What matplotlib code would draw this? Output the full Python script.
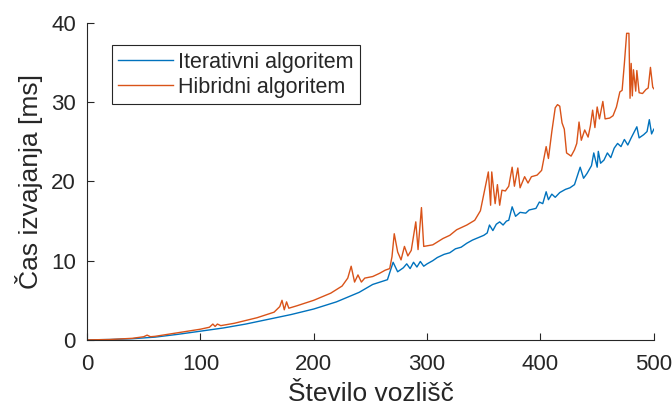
import matplotlib
matplotlib.use("Agg")
import matplotlib.pyplot as plt

# ------------------------------------------------------------
# Data (nodes vs. time in ms)
# ------------------------------------------------------------
n_iter = [0, 20, 40, 60, 80, 100, 120, 140, 160, 180, 200, 220, 240, 252, 265,
          270, 274, 279, 282, 285, 288, 291, 294, 297, 300, 305, 309, 315, 320,
          325, 330, 335, 340, 345, 350, 353, 355, 358, 361, 364, 367, 370, 372,
          375, 378, 382, 387, 390, 396, 399, 402, 405, 407, 410, 413, 417, 422,
          426, 430, 435, 438, 441, 445, 447, 450, 451, 453, 456, 459, 462, 465,
          468, 471, 474, 477, 480, 485, 487, 491, 494, 496, 498, 500]
t_iter = [0.0, 0.05, 0.15, 0.35, 0.7, 1.1, 1.5, 2.0, 2.6, 3.2, 3.9, 4.8, 6.0, 7.0, 7.6,
          9.8, 8.6, 9.1, 9.6, 9.0, 9.8, 9.2, 9.9, 9.3, 9.6, 10.0, 10.4, 10.8, 11.0,
          11.5, 11.7, 12.2, 12.6, 12.9, 13.2, 13.5, 14.5, 13.8, 14.6, 14.9, 14.5, 15.0, 15.1,
          16.8, 15.6, 16.1, 16.0, 16.4, 16.6, 17.4, 17.2, 18.7, 17.7, 18.4, 18.0, 18.6, 19.0,
          19.2, 19.6, 21.8, 20.4, 21.0, 22.0, 23.6, 21.8, 23.8, 22.3, 22.7, 23.6, 23.0, 24.2,
          24.8, 24.4, 25.3, 24.6, 25.5, 26.9, 25.5, 25.9, 26.3, 27.8, 26.0, 26.6]

n_hib = [0, 20, 40, 50, 53, 56, 60, 80, 100, 108, 111, 113, 115, 118, 130, 150,
         165, 170, 172, 174, 176, 178, 185, 200, 215, 225, 230, 233, 236, 239,
         242, 245, 252, 258, 263, 267, 269, 271, 274, 277, 280, 283, 286, 290,
         292, 295, 297, 305, 314, 320, 326, 335, 342, 347, 350, 354, 356, 357,
         360, 362, 364, 366, 369, 372, 375, 377, 380, 382, 386, 389, 392, 397,
         401, 405, 407, 410, 413, 415, 417, 419, 421, 423, 427, 430, 432, 434,
         436, 439, 442, 444, 446, 448, 450, 452, 455, 457, 461, 464, 467, 470,
         472, 474, 476, 478, 479, 480, 481, 482, 484, 485, 487, 490, 493, 495,
         497, 499, 500]
t_hib = [0.0, 0.05, 0.2, 0.4, 0.6, 0.4, 0.45, 0.9, 1.35, 1.6, 2.0, 1.7, 2.0, 1.8, 2.1, 2.8,
         3.5, 4.2, 5.0, 3.8, 4.8, 4.0, 4.3, 5.0, 5.9, 6.8, 7.8, 9.3, 7.3, 8.2,
         7.3, 7.8, 8.0, 8.4, 8.8, 9.0, 10.5, 13.4, 11.1, 10.1, 11.8, 10.6, 11.3, 14.9,
         11.4, 16.7, 11.8, 12.0, 12.8, 13.2, 13.9, 14.5, 15.1, 16.3, 18.4, 21.2, 17.0, 21.2,
         17.2, 19.6, 17.0, 18.9, 18.8, 19.4, 21.8, 19.4, 21.7, 19.2, 20.6, 19.8, 20.6, 20.8,
         21.4, 24.4, 22.9, 26.3, 29.3, 29.7, 29.5, 27.4, 26.6, 23.6, 23.2, 24.0, 24.8, 27.5,
         25.2, 26.5, 25.6, 27.0, 29.0, 26.8, 29.4, 27.9, 30.1, 27.9, 28.0, 28.3, 29.4, 31.3,
         31.5, 34.9, 38.7, 38.7, 30.5, 34.9, 30.8, 34.1, 31.4, 34.0, 31.2, 31.1, 31.6, 31.8,
         34.4, 31.9, 31.7]

labels = ["Iterativni algoritem", "Hibridni algoritem"]
x_ticks = [0, 100, 200, 300, 400, 500]
y_ticks = [0, 10, 20, 30, 40]

plt.rcParams["font.family"] = ["Liberation Sans", "DejaVu Sans"]
ink = "#262626"

fig = plt.figure(figsize=(6.72, 4.11), dpi=100)
ax = fig.add_axes([0.1295, 0.173, 0.8435, 0.771])

ax.plot(n_iter, t_iter, color="#0072BD", lw=1.0, label=labels[0])
ax.plot(n_hib, t_hib, color="#D95319", lw=1.0, label=labels[1])

ax.set_xlim(0, 500)
ax.set_ylim(0, 40)
ax.set_xticks(x_ticks)
ax.set_yticks(y_ticks)
ax.tick_params(direction="in", length=5, width=0.8, colors=ink, labelsize=16)
ax.tick_params(axis="x", pad=10)
ax.tick_params(axis="y", pad=8)
for side in ["top", "right"]:
    ax.spines[side].set_visible(False)
for side in ["left", "bottom"]:
    ax.spines[side].set_color(ink)
    ax.spines[side].set_linewidth(0.8)

ax.set_xlabel("Število vozlišč", fontsize=19, color=ink, labelpad=5)
ax.set_ylabel("Čas izvajanja [ms]", fontsize=19, color=ink, labelpad=6)

leg = ax.legend(loc="upper left", bbox_to_anchor=(0.044, 0.93), borderaxespad=0,
                fontsize=15.5, fancybox=False, framealpha=1, handlelength=2.55,
                handletextpad=0.2, borderpad=0.3, labelspacing=0.2)
leg.get_frame().set_edgecolor(ink)
leg.get_frame().set_linewidth(0.8)
for t in leg.get_texts():
    t.set_color(ink)

fig.savefig("out.png", dpi=100)
print("Saved plot: out.png")
